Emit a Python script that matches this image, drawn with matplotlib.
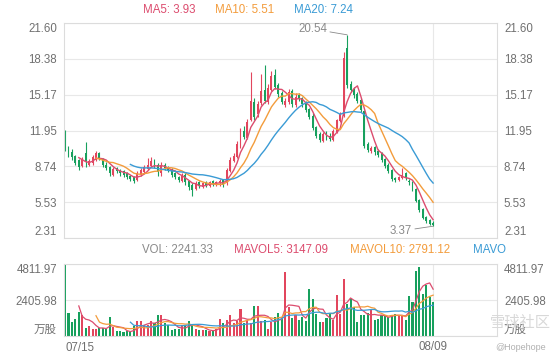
import numpy as np
import pandas as pd
import matplotlib
matplotlib.use("Agg")
import matplotlib.pyplot as plt
from matplotlib.transforms import Bbox, TransformedBbox, blended_transform_factory

plt.rcParams['font.family'] = ['Liberation Sans', 'Noto Sans CJK SC', 'DejaVu Sans']

#%% data
opens = [11.9, 10.4, 10.0, 9.7, 9.3, 8.8, 9.9, 8.9, 9.0, 9.3,
         9.9, 9.4, 8.9, 8.7, 8.0, 8.6, 8.4, 8.3, 8.1, 7.9,
         7.8, 7.5, 8.0, 8.2, 8.5, 8.8, 9.3, 8.9, 8.1, 8.9,
         8.7, 8.5, 8.1, 7.8, 7.4, 8.0, 7.4, 7.1, 6.7, 7.3,
         6.9, 7.3, 7.0, 7.4, 7.1, 7.2, 7.5, 7.2, 8.3, 9.2,
         9.6, 10.6, 11.9, 11.3, 12.9, 14.5, 13.4, 14.4, 15.6, 14.5,
         15.6, 16.9, 16.0, 15.3, 14.2, 14.5, 15.5, 14.2, 15.1, 14.9,
         14.4, 13.9, 13.3, 12.3, 11.6, 11.0, 11.8, 11.5, 11.1, 11.8,
         12.8, 13.3, 19.4, 16.1, 15.7, 15.2, 14.7, 13.7, 10.7, 10.1,
         10.5, 10.1, 9.9, 9.4, 8.9, 8.4, 7.7, 7.5, 7.7, 8.1,
         7.4, 7.3, 6.7, 5.7, 4.9, 4.2, 3.9, 3.7]
closes = [10.3, 10.0, 9.6, 9.0, 8.7, 9.4, 9.1, 9.2, 9.6, 9.9,
          9.5, 8.9, 8.6, 8.1, 8.5, 8.3, 8.1, 8.0, 7.8, 7.6,
          7.4, 8.1, 8.4, 8.7, 8.9, 9.2, 8.8, 8.2, 8.9, 8.6,
          8.4, 8.0, 7.8, 7.5, 7.9, 7.3, 6.9, 6.6, 7.2, 7.0,
          7.2, 7.1, 7.3, 7.2, 7.3, 7.4, 7.1, 8.4, 9.3, 9.7,
          10.7, 11.8, 11.4, 12.7, 14.6, 13.2, 14.3, 15.5, 14.6, 15.8,
          16.8, 15.9, 15.2, 14.5, 14.6, 15.4, 14.3, 15.0, 14.8, 14.3,
          13.8, 13.2, 12.2, 11.5, 11.1, 11.6, 11.3, 11.2, 11.9, 12.9,
          13.4, 18.5, 16.0, 15.6, 15.1, 14.6, 13.8, 10.6, 10.2, 10.4,
          10.0, 9.8, 9.3, 8.8, 8.3, 7.6, 7.5, 7.8, 8.0, 7.7,
          7.3, 6.7, 5.65, 4.8, 4.1, 3.8, 3.6, 3.45]
highs = [12.0, 10.6, 10.3, 9.8, 9.4, 9.6, 10.9, 9.4, 9.8, 10.1,
         10.0, 9.5, 9.1, 8.8, 8.7, 8.7, 8.5, 8.4, 8.2, 8.0,
         7.9, 8.3, 8.6, 8.9, 9.5, 9.6, 9.4, 9.0, 9.1, 9.0,
         8.8, 8.6, 8.2, 7.9, 8.1, 8.1, 7.5, 7.2, 7.4, 7.4,
         7.3, 7.4, 7.4, 7.5, 7.4, 7.6, 7.6, 8.6, 9.6, 9.9,
         11.0, 12.2, 12.4, 13.0, 17.2, 14.9, 14.6, 17.0, 17.8, 16.1,
         17.3, 17.5, 16.2, 15.5, 14.9, 15.7, 15.7, 15.3, 15.3, 15.0,
         14.6, 14.0, 13.5, 12.4, 11.8, 11.8, 11.9, 11.7, 12.1, 13.0,
         13.6, 19.0, 20.54, 16.4, 15.9, 15.4, 14.9, 13.8, 10.9, 10.6,
         10.6, 10.3, 10.0, 9.5, 9.0, 8.5, 7.8, 7.9, 8.6, 8.2,
         7.6, 7.4, 6.8, 5.8, 5.0, 4.3, 4.0, 3.8]
lows = [10.1, 9.6, 9.3, 8.9, 8.4, 8.7, 8.7, 8.8, 8.9, 9.2,
        9.3, 8.7, 8.4, 7.9, 7.9, 8.1, 7.9, 7.8, 7.6, 7.4,
        7.2, 7.4, 7.9, 8.1, 8.4, 8.7, 8.6, 7.9, 7.9, 8.4,
        8.2, 7.8, 7.6, 7.3, 7.3, 7.1, 6.6, 6.1, 6.6, 6.8,
        6.8, 6.9, 6.9, 7.0, 7.0, 7.0, 6.9, 7.1, 8.2, 9.1,
        9.5, 10.4, 11.2, 11.2, 12.8, 12.9, 13.2, 14.2, 14.4, 14.3,
        15.5, 15.7, 15.0, 14.3, 14.1, 14.3, 14.1, 14.1, 14.6, 14.1,
        13.6, 13.0, 12.0, 11.3, 10.9, 10.9, 11.1, 11.0, 11.0, 11.7,
        12.7, 13.2, 15.8, 15.4, 14.9, 14.4, 13.6, 10.4, 10.0, 9.9,
        9.8, 9.6, 9.1, 8.6, 8.1, 7.4, 7.3, 7.4, 7.6, 7.5,
        7.1, 6.5, 5.5, 4.6, 4.0, 3.7, 3.5, 3.37]
volumes = [4811.97, 1536, 935, 1160, 1600, 1380, 535, 670, 490, 445,
           535, 535, 490, 1270, 600, 310, 310, 270, 310, 270,
           670, 980, 980, 710, 710, 980, 890, 1380, 1380, 890,
           710, 380, 445, 445, 710, 710, 980, 825, 490, 380,
           420, 380, 310, 310, 490, 1115, 890, 1050, 1380, 890,
           980, 1780, 890, 1050, 890, 2005, 2005, 980, 1050, 490,
           935, 1270, 1560, 1300, 4280, 1940, 1200, 1380, 1100, 1300,
           1000, 3117, 2450, 1500, 935, 935, 1200, 1490, 1050, 2718,
           1490, 3830, 2160, 2500, 1940, 935, 1380, 1380, 1560, 1830,
           1050, 1160, 1380, 1380, 1270, 1380, 1490, 1380, 1380, 1050,
           2650, 2250, 4320, 4608, 2820, 3380, 2600, 2241.33]

price_ticks = [2.31, 5.53, 8.74, 11.95, 15.17, 18.38, 21.60]
vol_ticks = [0, 2405.98, 4811.97]
vol_tick_labels = ['万股', '2405.98', '4811.97']
x_labels = ['07/15', '08/09']

RED = '#e2465d'
GREEN = '#17a05d'
C_MA5 = '#dc4c6e'
C_MA10 = '#f39c3c'
C_MA20 = '#3a9bd5'
GRID = '#e8e8e8'
TXT = '#707070'

#%% derived series
df = pd.DataFrame({'o': opens, 'c': closes, 'h': highs, 'l': lows, 'v': volumes})
df['ma5'] = df['c'].rolling(5).mean()
df['ma10'] = df['c'].rolling(10).mean()
df['ma20'] = df['c'].rolling(20).mean()
df['mv5'] = df['v'].rolling(5).mean()
df['mv10'] = df['v'].rolling(10).mean()
df['mv20'] = df['v'].rolling(20).mean()
idx = np.arange(len(df))
cols = np.where(df['c'] >= df['o'], RED, GREEN)
last = len(df) - 1

fig = plt.figure(figsize=(5.6, 3.6), dpi=100)
ax = fig.add_axes([64/560, 1-238/360, 433/560, 215/360])
ax2 = fig.add_axes([64/560, 1-336/360, 433/560, 72/360])

# price panel
ax.vlines(idx, df['l'], df['h'], colors=cols, linewidth=0.8)
ax.bar(idx, (df['c'] - df['o']).abs(), bottom=np.minimum(df['o'], df['c']),
       width=0.55, color=cols, linewidth=0)
ax.plot(idx, df['ma5'], color=C_MA5, lw=1)
ax.plot(idx, df['ma10'], color=C_MA10, lw=1)
ax.plot(idx, df['ma20'], color=C_MA20, lw=1)

# volume panel
ax2.bar(idx, df['v'], width=0.6, color=cols, linewidth=0)
ax2.plot(idx, df['mv5'], color=C_MA5, lw=0.9)
ax2.plot(idx, df['mv10'], color=C_MA10, lw=0.9)
ax2.plot(idx, df['mv20'], color=C_MA20, lw=0.9)

for a in (ax, ax2):
    a.set_xlim(-0.3, 125.57)
    a.set_xticks([])
    a.axvline(last, color=GRID, lw=0.8, zorder=0)
    a.grid(axis='y', color=GRID, lw=0.8)
    a.set_axisbelow(True)
    a.tick_params(axis='y', length=0, labelsize=8.3, labelcolor=TXT,
                  labelleft=True, labelright=True, pad=5)
    for s in a.spines.values():
        s.set_color('#dcdcdc')
        s.set_linewidth(0.8)

ax.set_ylim(price_ticks[0], price_ticks[-1])
ax.set_yticks(price_ticks)
ax.set_yticklabels(['%.2f' % t for t in price_ticks])
ax2.set_ylim(vol_ticks[0], vol_ticks[-1])
ax2.set_yticks(vol_ticks)
ax2.set_yticklabels(vol_tick_labels)

for a in (ax, ax2):
    tks = a.yaxis.get_major_ticks()
    tks[0].label1.set_va('bottom')
    tks[0].label2.set_va('bottom')
    tks[-1].label1.set_va('top')
    tks[-1].label2.set_va('top')

# x labels
tr = blended_transform_factory(ax2.transData, ax2.transAxes)
ax2.text(0, -0.16, x_labels[0], transform=tr, ha='left', va='center',
         fontsize=8.3, color=TXT)
ax2.text(last, -0.15, x_labels[1], transform=tr, ha='center', va='center',
         fontsize=8.3, color=TXT)

# max / min labels
imax = int(df['h'].idxmax())
imin = int(df['l'].idxmin())
ax.annotate('%.2f' % df['h'][imax], xy=(imax, df['h'][imax]), xytext=(76.2, 21.06),
            ha='right', va='center', fontsize=8.3, color='#8a8a8a',
            arrowprops=dict(arrowstyle='-', color='#8a8a8a', lw=0.6,
                            shrinkA=0, shrinkB=0))
ax.annotate('%.2f' % df['l'][imin], xy=(imin, df['l'][imin]), xytext=(100.9, 2.94),
            ha='right', va='center', fontsize=8.3, color='#8a8a8a',
            arrowprops=dict(arrowstyle='-', color='#8a8a8a', lw=0.6,
                            shrinkA=0, shrinkB=0))

# headers
hy = 1 - 10/360
fig.text(143/560, hy, 'MA5: 3.93', color=C_MA5, fontsize=8.3, va='center')
fig.text(215/560, hy, 'MA10: 5.51', color=C_MA10, fontsize=8.3, va='center')
fig.text(294/560, hy, 'MA20: 7.24', color=C_MA20, fontsize=8.3, va='center')

vy = 1 - 250/360
fig.text(142/560, vy, 'VOL: 2241.33', color='#8a8a8a', fontsize=8.3, va='center')
fig.text(234/560, vy, 'MAVOL5: 3147.09', color=C_MA5, fontsize=8.3, va='center')
fig.text(350/560, vy, 'MAVOL10: 2791.12', color=C_MA10, fontsize=8.3, va='center')
t = fig.text(473/560, vy, 'MAVOL20: 2435.63', color=C_MA20, fontsize=8.3, va='center')
t.set_clip_box(TransformedBbox(Bbox([[0, 0], [507/560, 1]]), fig.transFigure))
t.set_clip_on(True)

# watermark
fig.text(490/560, 1-323/360, '雪球社区', color='#d8d8d8', fontsize=11, va='center')
fig.text(495/560, 1-347/360, '@Hopehope', color='#b0b0b0', fontsize=6.5, va='center')

plt.savefig("out.png", dpi=100)
